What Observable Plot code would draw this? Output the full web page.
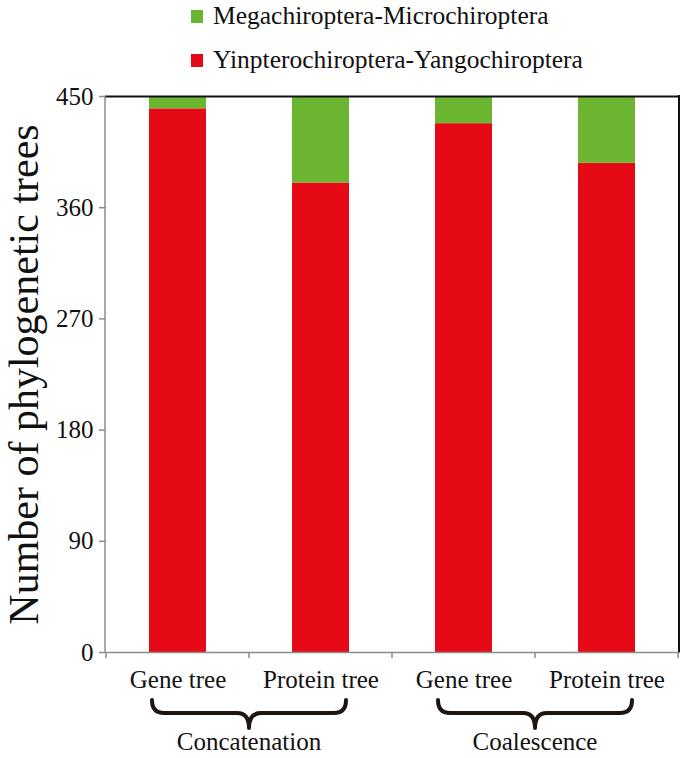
<!DOCTYPE html>
<html>
<head>
<meta charset="utf-8">
<script src="https://cdn.jsdelivr.net/npm/d3@7"></script>
<script src="https://cdn.jsdelivr.net/npm/@observablehq/plot@0.6"></script>
<style>
  html, body { margin: 0; padding: 0; background: white; font-family: Liberation Serif, serif; }
  #wrap { width: 685px; height: 758px; position: relative; overflow: hidden; font-family: Liberation Serif, serif; }
  #legend { position: relative; height: 80px; width: 685px; }
  .sw { position: absolute; width: 12px; height: 13px; }
  .lt { position: absolute; font-size: 25.5px; line-height: 25px; white-space: nowrap; color: #111; font-family: Liberation Serif, serif; }
</style>
</head>
<body>
<div id="wrap">
  <div id="legend"></div>
  <div id="chart"></div>
</div>
<script>
// ---- data ----
const categories = ["Gene tree", "Protein tree", "Gene tree", "Protein tree"];
const methods = ["Concatenation", "Concatenation", "Coalescence", "Coalescence"];
const seriesNames = ["Yinpterochiroptera-Yangochiroptera", "Megachiroptera-Microchiroptera"];
const yinYangValues = [440, 380, 428, 396];
const megaMicroValues = [10, 70, 22, 54];
const seriesColors = ["#e50a16", "#6cb530"];
const yTicks = [0, 90, 180, 270, 360, 450];
const yLabel = "Number of phylogenetic trees";
const legendOrder = ["Megachiroptera-Microchiroptera", "Yinpterochiroptera-Yangochiroptera"];

// ---- build table ----
const keys = categories.map((c, i) => methods[i] + "|" + c);
const rows = [];
keys.forEach((k, i) => rows.push({key: k, series: seriesNames[0], value: yinYangValues[i]}));
keys.forEach((k, i) => rows.push({key: k, series: seriesNames[1], value: megaMicroValues[i]}));

const font = "Liberation Serif, serif";

// ---- legend ----
const legend = document.getElementById("legend");
legendOrder.forEach((name, i) => {
  const col = seriesColors[seriesNames.indexOf(name)];
  const sw = document.createElement("div");
  sw.className = "sw";
  sw.style.left = "191px";
  sw.style.top = (10 + i * 44) + "px";
  sw.style.background = col;
  legend.appendChild(sw);
  const t = document.createElement("div");
  t.className = "lt";
  t.style.left = "213px";
  t.style.top = (3 + i * 44) + "px";
  t.style.fontFamily = font;
  t.textContent = name;
  legend.appendChild(t);
});

// ---- plot ----
const W = 685, H = 678, mL = 105, mR = 5, mT = 16, mB = 106;
const svg = Plot.plot({
  width: W, height: H,
  marginLeft: mL, marginRight: mR, marginTop: mT, marginBottom: mB,
  style: {fontFamily: font, background: "white", color: "#111"},
  x: {domain: keys, paddingInner: 0.6, paddingOuter: 0.3, label: null, axis: null},
  y: {domain: [0, 450], label: null, axis: null},
  color: {domain: seriesNames, range: seriesColors},
  marks: [
    Plot.barY(rows, Plot.stackY({x: "key", y: "value", fill: "series", order: null})),
    Plot.axisY({ticks: yTicks, tickSize: 6, tickPadding: 6, fontSize: 25, fontFamily: font, stroke: "#8c8c8c", fill: "#111", strokeWidth: 1.5, label: null}),
    Plot.axisX({tickSize: 0, tickPadding: 18, fontSize: 25, fontFamily: font, fill: "#111", tickFormat: d => d.split("|")[1], label: null}),
    Plot.ruleY([0], {stroke: "#8c8c8c", strokeWidth: 1.5}),
    Plot.ruleY([450], {stroke: "#111", strokeWidth: 2}),
    Plot.text([yLabel], {frameAnchor: "left", textAnchor: "middle", lineAnchor: "middle", rotate: -90, dx: -81, fontSize: 42, fill: "#111", fontFamily: font})
  ]
});
svg.setAttribute("font-family", font);
document.getElementById("chart").appendChild(svg);

// ---- decorations using the plot's scales ----
const xs = svg.scale("x");
const ys = svg.scale("y");
const bw = xs.bandwidth;
const step = xs.step;
const x0 = mL, x1 = W - mR;
const yTop = ys.apply(450), yBot = ys.apply(0);
const g = d3.select(svg).append("g");
g.append("line").attr("x1", x0).attr("x2", x0).attr("y1", yTop).attr("y2", yBot)
  .attr("stroke", "#8c8c8c").attr("stroke-width", 1.5);
g.append("line").attr("x1", x1 - 1).attr("x2", x1 - 1).attr("y1", yTop - 1).attr("y2", yBot)
  .attr("stroke", "#111").attr("stroke-width", 2);
const bounds = keys.map(k => xs.apply(k) - (step - bw) / 2);
bounds.push(xs.apply(keys[keys.length - 1]) + bw + (step - bw) / 2);
bounds.forEach(b => {
  g.append("line").attr("x1", b).attr("x2", b).attr("y1", yBot).attr("y2", yBot + 6)
    .attr("stroke", "#8c8c8c").attr("stroke-width", 1.5);
});
const groups = Array.from(new Set(methods));
groups.forEach(m => {
  const ks = keys.filter((k, i) => methods[i] === m);
  const a = xs.apply(ks[0]) + 3;
  const b = xs.apply(ks[ks.length - 1]) + bw - 3;
  const mid = (a + b) / 2;
  const yt = yBot + 48, ym = yBot + 61, yp = yBot + 76, r = 12;
  const p = `M${a},${yt} Q${a},${ym} ${a + r},${ym} L${mid - r},${ym} Q${mid},${ym} ${mid},${yp} Q${mid},${ym} ${mid + r},${ym} L${b - r},${ym} Q${b},${ym} ${b},${yt}`;
  g.append("path").attr("d", p).attr("fill", "none").attr("stroke", "#1e1410")
    .attr("stroke-width", 4).attr("stroke-linecap", "round").attr("stroke-linejoin", "round");
  g.append("text").attr("x", mid).attr("y", yBot + 98).attr("text-anchor", "middle")
    .attr("font-size", 25).attr("font-family", font).attr("fill", "#111").text(m);
});
</script>
</body>
</html>
